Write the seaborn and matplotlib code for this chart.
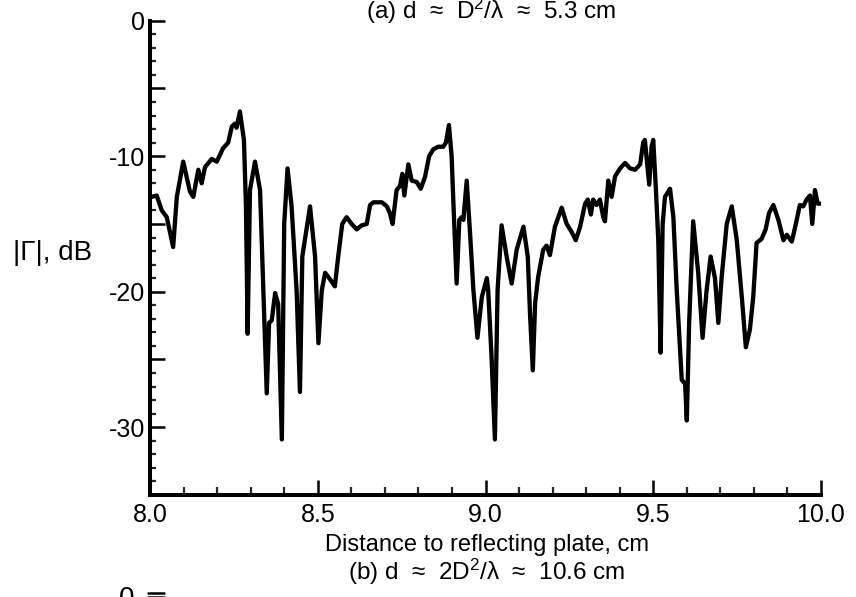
import numpy as np
import pandas as pd
import matplotlib
matplotlib.use("Agg")
import matplotlib.pyplot as plt
from matplotlib.ticker import MultipleLocator, FixedLocator, FuncFormatter
from matplotlib.lines import Line2D
import seaborn as sns

# ---- data ----
distance_cm = [
    8.005, 8.020, 8.035, 8.050, 8.069, 8.080, 8.099, 8.119, 8.129, 8.144,
    8.154, 8.164, 8.184, 8.199, 8.218, 8.233, 8.244, 8.253, 8.258, 8.268,
    8.280, 8.286, 8.291, 8.298, 8.313, 8.328, 8.338, 8.348, 8.355, 8.363,
    8.373, 8.382, 8.393, 8.400, 8.410, 8.422, 8.437, 8.447, 8.454, 8.477,
    8.492, 8.502, 8.512, 8.522, 8.537, 8.551, 8.561, 8.573, 8.586, 8.601,
    8.616, 8.631, 8.646, 8.656, 8.666, 8.676, 8.691, 8.706, 8.715, 8.723,
    8.735, 8.745, 8.752, 8.758, 8.770, 8.780, 8.795, 8.807, 8.820, 8.832,
    8.844, 8.859, 8.874, 8.882, 8.891, 8.899, 8.906, 8.914, 8.922, 8.929,
    8.934, 8.944, 8.954, 8.964, 8.976, 8.989, 9.004, 9.008, 9.018, 9.028,
    9.036, 9.048, 9.063, 9.078, 9.093, 9.113, 9.126, 9.133, 9.141, 9.148,
    9.157, 9.172, 9.182, 9.192, 9.207, 9.227, 9.242, 9.257, 9.269, 9.282,
    9.297, 9.305, 9.314, 9.321, 9.331, 9.341, 9.351, 9.356, 9.366, 9.376,
    9.386, 9.401, 9.416, 9.431, 9.446, 9.461, 9.470, 9.475, 9.488, 9.495,
    9.500, 9.508, 9.515, 9.522, 9.528, 9.535, 9.550, 9.560, 9.570, 9.585,
    9.595, 9.600, 9.607, 9.619, 9.634, 9.647, 9.659, 9.671, 9.684, 9.694,
    9.704, 9.719, 9.734, 9.749, 9.764, 9.776, 9.788, 9.798, 9.808, 9.823,
    9.835, 9.845, 9.858, 9.873, 9.888, 9.898, 9.913, 9.925, 9.937, 9.947,
    9.957, 9.967, 9.974, 9.982, 9.990, 10.000,
]
gamma_db = [
    -13.0, -12.9, -14.0, -14.5, -16.7, -13.0, -10.4, -12.6, -13.0, -11.0,
    -12.0, -10.8, -10.2, -10.4, -9.4, -9.0, -7.8, -7.6, -7.9, -6.7,
    -8.8, -13.7, -23.1, -12.5, -10.4, -12.5, -19.9, -27.5, -22.3, -22.1,
    -20.1, -20.9, -30.9, -15.0, -10.9, -13.7, -19.9, -27.4, -17.4, -13.7,
    -17.4, -23.8, -19.9, -18.6, -19.1, -19.6, -17.4, -15.0, -14.5, -15.0,
    -15.4, -15.1, -15.0, -13.6, -13.4, -13.4, -13.4, -13.7, -14.2, -15.0,
    -12.5, -12.2, -11.3, -12.9, -10.6, -11.8, -11.9, -12.4, -11.5, -10.0,
    -9.5, -9.3, -9.3, -9.0, -7.7, -10.0, -14.5, -19.4, -14.7, -14.5,
    -14.7, -11.8, -15.7, -19.9, -23.4, -20.4, -19.0, -19.9, -24.8, -30.9,
    -19.9, -15.1, -17.4, -19.4, -16.9, -15.2, -17.4, -21.8, -25.8, -20.8,
    -18.9, -16.9, -16.6, -17.3, -15.2, -13.8, -15.0, -15.6, -16.2, -15.2,
    -13.5, -13.2, -14.3, -13.2, -13.6, -13.2, -14.5, -14.8, -11.8, -13.0,
    -11.5, -10.9, -10.5, -10.9, -11.0, -10.6, -9.0, -8.8, -12.1, -9.3,
    -8.8, -12.5, -16.2, -24.5, -15.0, -13.0, -12.4, -14.5, -19.9, -26.5,
    -26.8, -29.5, -22.3, -14.8, -18.6, -23.4, -19.9, -17.4, -19.0, -22.3,
    -18.9, -15.0, -13.7, -16.2, -20.4, -24.1, -22.8, -20.4, -16.4, -16.1,
    -15.4, -14.2, -13.6, -14.7, -16.2, -15.8, -16.3, -15.0, -13.6, -13.7,
    -13.2, -12.9, -15.0, -12.5, -13.5, -13.5,
]
x_tick_values = [8.0, 8.5, 9.0, 9.5, 10.0]
x_tick_labels = ["8.0", "8.5", "9.0", "9.5", "10.0"]
y_tick_values = [0, -5, -10, -15, -20, -25, -30, -35]
y_labelled = [0, -10, -20, -30]

title_a = "(a) d  \u2248  D$^2$/\u03bb  \u2248  5.3 cm"
title_b = "(b) d  \u2248  2D$^2$/\u03bb  \u2248  10.6 cm"
x_label = "Distance to reflecting plate, cm"
y_label = "|\u0393|, dB"

# ---- style ----
sns.set_style("ticks")
FONT = ["Liberation Sans", "DejaVu Sans"]
plt.rcParams["font.family"] = FONT
plt.rcParams["mathtext.fontset"] = "custom"
plt.rcParams["mathtext.rm"] = "Liberation Sans"
plt.rcParams["mathtext.it"] = "Liberation Sans"
plt.rcParams["mathtext.default"] = "regular"

W, H = 856, 597
fig = plt.figure(figsize=(W / 100, H / 100), dpi=100)
left_px, right_px, top_px, bot_px = 150, 821, 20.7, 495
ax = fig.add_axes([left_px / W, 1 - bot_px / H,
                   (right_px - left_px) / W, (bot_px - top_px) / H])

df = pd.DataFrame({"distance": distance_cm, "gamma": gamma_db})
sns.lineplot(data=df, x="distance", y="gamma", ax=ax, color="black",
             linewidth=3.1, estimator=None, sort=False)

ax.set_xlim(8.0, 10.0)
ax.set_ylim(-35, 0)
ax.set_xlabel("")
ax.set_ylabel("")

for s in ["top", "right"]:
    ax.spines[s].set_visible(False)
for s in ["left", "bottom"]:
    ax.spines[s].set_linewidth(2.9)
    ax.spines[s].set_color("black")

ax.xaxis.set_major_locator(FixedLocator(x_tick_values))
ax.set_xticklabels(x_tick_labels)
ax.xaxis.set_minor_locator(MultipleLocator(0.1))
ax.yaxis.set_major_locator(FixedLocator(y_tick_values))
ax.yaxis.set_major_formatter(FuncFormatter(
    lambda v, p: f"{int(round(v))}" if int(round(v)) in y_labelled else ""))
ax.yaxis.set_minor_locator(MultipleLocator(1))

ax.tick_params(axis="both", which="major", direction="in", length=11,
               width=1.8, color="black", labelsize=18, labelcolor="black")
ax.tick_params(axis="x", which="minor", direction="in", length=5.5, width=1.6)
ax.tick_params(axis="y", which="minor", direction="in", length=4, width=1.6)
ax.tick_params(axis="x", which="major", pad=6)
ax.tick_params(axis="y", which="major", pad=3.5)

# texts
fig.text(491 / W, 1 - 19 / H, title_a, ha="center", va="baseline",
         fontsize=17.5, color="black")
fig.text(487 / W, 1 - 545 / H, x_label, ha="center", va="center",
         fontsize=17, color="black")
fig.text(487 / W, 1 - 571.5 / H, title_b, ha="center", va="center",
         fontsize=17.5, color="black")
fig.text(13 / W, 1 - 253 / H, y_label, ha="left", va="center",
         fontsize=20, color="black")
# start of the next panel (cut off at the bottom)
fig.text(134 / W, 1 - 586 / H, "0", ha="right", va="top",
         fontsize=20, color="black")
fig.add_artist(Line2D([148 / W, 164 / W], [1 - 593 / H, 1 - 593 / H],
                      transform=fig.transFigure, color="black", linewidth=1.8))
fig.add_artist(Line2D([148 / W, 164 / W], [1 - 597 / H, 1 - 597 / H],
                      transform=fig.transFigure, color="black", linewidth=1.8))

fig.savefig("out.png", dpi=100, facecolor="white")
